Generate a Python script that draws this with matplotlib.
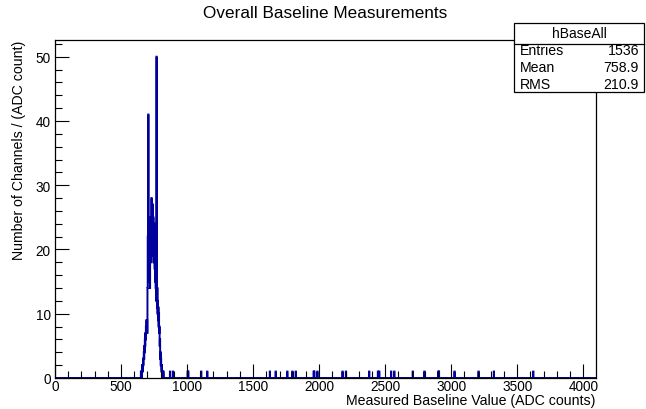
import numpy as np
import matplotlib
matplotlib.use("Agg")
import matplotlib.pyplot as plt
from matplotlib.ticker import MultipleLocator
from matplotlib.patches import Rectangle
from matplotlib.lines import Line2D

plt.rcParams['font.family'] = ['Liberation Sans', 'DejaVu Sans']

# ---- data ----
x_min, x_max, bin_width = 0, 4096, 2
core_bin_lo = list(range(650, 822, 2))
core_counts = [1, 0, 1, 0, 1, 2, 1, 2, 3, 2, 3, 4, 3, 5, 4, 6, 5, 7, 6, 8,
               7, 9, 8, 9, 7, 14, 22, 18, 41, 20, 15, 23, 17, 21, 14, 22, 19, 25, 18, 23,
               28, 20, 24, 26, 19, 27, 21, 25, 18, 23, 20, 24, 17, 22, 15, 19, 14, 18, 12, 50,
               16, 11, 14, 10, 12, 9, 11, 8, 10, 7, 8, 5, 6, 3, 4, 2, 3, 2, 1, 2,
               1, 0, 1, 1, 0, 1]
outlier_values = [870, 893, 1004, 1008, 1106, 1152, 1627, 1670, 1759, 1797, 1822,
                  1958, 1962, 1987, 2177, 2202, 2379, 2445, 2455, 2544, 2569, 2708,
                  2797, 2902, 2906, 3025, 3207, 3323, 3620]
stats_labels = ["Entries", "Mean", "RMS"]
stats_values = ["1536", "758.9", "210.9"]
hist_name = "hBaseAll"

edges = np.arange(x_min, x_max + bin_width, bin_width)
counts = np.zeros(len(edges) - 1)
for lo, c in zip(core_bin_lo, core_counts):
    counts[lo // bin_width] += c
for v in outlier_values:
    counts[v // bin_width] += 1

# ---- figure ----
fig = plt.figure(figsize=(6.46, 4.10), dpi=100)
ax = fig.add_axes([55/646, 1 - 379/410, (596-55)/646, (379-41)/410])
ax.stairs(counts, edges, baseline=0, color='#00009c', lw=1.4)
ax.set_xlim(x_min, x_max)
ax.set_ylim(0, 52.6)

ax.xaxis.set_major_locator(MultipleLocator(500))
ax.xaxis.set_minor_locator(MultipleLocator(100))
ax.yaxis.set_major_locator(MultipleLocator(10))
ax.yaxis.set_minor_locator(MultipleLocator(2))
ax.tick_params(which='both', direction='in', top=False, right=False, labelsize=9.8, width=0.8, color='black')
ax.tick_params(which='major', length=10)
ax.tick_params(which='minor', length=5)
ax.tick_params(axis='x', pad=1)
ax.tick_params(axis='y', pad=3)
for s in ax.spines.values():
    s.set_linewidth(0.9)

ax.set_ylabel("Number of Channels / (ADC count)", fontsize=10.2, loc='top', labelpad=7)
fig.text(595/646, 1 - 401/410, "Measured Baseline Value (ADC counts)", ha='right', va='center', fontsize=10.2)

fig.text(325/646, 1 - 14/410, "Overall Baseline Measurements", ha='center', va='center', fontsize=12.3)

# stats box
bx0, bx1 = 514/646, 644/646
by0, by1 = 1 - 93/410, 1 - 24/410
hy = 1 - 45/410
fig.patches.append(Rectangle((bx0, by0), bx1 - bx0, by1 - by0, transform=fig.transFigure,
                             facecolor='white', edgecolor='black', lw=0.9, zorder=5))
fig.lines.append(Line2D([bx0, bx1], [hy, hy], transform=fig.transFigure, color='black', lw=0.9, zorder=6))
fig.text((bx0 + bx1) / 2, 1 - 34/410, hist_name, ha='center', va='center', fontsize=10, zorder=7)
row_y = [51, 68, 85]
for lab, val, yy in zip(stats_labels, stats_values, row_y):
    fig.text(520/646, 1 - yy/410, lab, ha='left', va='center', fontsize=10.2, zorder=7)
    fig.text(639/646, 1 - yy/410, val, ha='right', va='center', fontsize=10.2, zorder=7)

fig.savefig("out.png", dpi=100)
